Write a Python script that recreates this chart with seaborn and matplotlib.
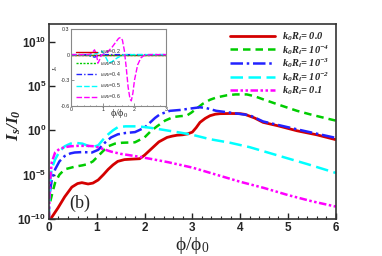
import numpy as np
import matplotlib
matplotlib.use("Agg")
import matplotlib.pyplot as plt
from matplotlib.ticker import MultipleLocator, NullLocator
import seaborn as sns

# main panel: log10(Is/I0)
x_red = [0, 0.06, 0.19, 0.33, 0.48, 0.6, 0.69, 0.82, 0.92, 1.03, 1.14, 1.24, 1.34, 1.44,
         1.58, 1.73, 1.9, 2.0, 2.18, 2.3, 2.47, 2.58, 2.68, 2.8, 2.9, 3.0, 3.08, 3.16,
         3.27, 3.37, 3.48, 3.58, 3.8, 4.0, 4.1, 4.2, 4.3, 4.48, 4.8, 5.19, 5.6, 6.0]
lg_red = [-10, -9.8, -8.75, -7.5, -6.4, -6.0, -5.9, -6.05, -5.95, -5.6, -5.0, -4.4, -3.9, -3.5,
          -3.3, -3.25, -3.2, -2.8, -1.9, -1.3, -0.8, -0.65, -0.55, -0.5, -0.4, -0.2, 0.3, 0.9,
          1.35, 1.65, 1.82, 1.88, 1.9, 1.88, 1.8, 1.6, 1.4, 0.9, 0.5, -0.05, -0.5, -1.05]

x_green = [0.03, 0.08, 0.13, 0.22, 0.33, 0.54, 0.7, 0.82, 0.92, 1.03, 1.14, 1.24, 1.38, 1.53,
           1.8, 2.0, 2.13, 2.26, 2.43, 2.6, 2.75, 2.88, 2.98, 3.1, 3.22, 3.37, 3.5, 3.72,
           3.9, 4.14, 4.3, 4.48, 4.8, 5.19, 5.5, 5.88, 6.0]
lg_green = [-8, -6.9, -5.9, -5.0, -4.4, -4.1, -3.95, -3.8, -3.5, -2.9, -2.3, -1.8, -1.5, -1.4,
            -1.35, -0.8, -0.1, 0.45, 1.1, 1.5, 1.6, 1.65, 2.0, 2.5, 3.0, 3.45, 3.7, 3.95,
            4.05, 4.05, 3.85, 3.5, 2.9, 2.2, 1.75, 1.25, 1.1]

x_blue = [0.02, 0.06, 0.13, 0.22, 0.33, 0.45, 0.54, 0.7, 0.9, 1.03, 1.17, 1.3, 1.44, 1.6, 1.8,
          2.0, 2.11, 2.22, 2.32, 2.53, 2.75, 2.95, 3.16, 3.3, 3.5, 3.79, 4.2, 4.48, 5.2, 6.0]
lg_blue = [-7, -5.6, -4.4, -3.5, -2.9, -2.6, -2.5, -2.45, -2.5, -2.2, -1.4, -0.8, -0.45, -0.3, -0.2,
           0.3, 0.85, 1.4, 1.8, 2.2, 2.3, 2.45, 2.6, 2.5, 2.2, 2.0, 1.7, 1.0, 0.1, -0.85]

x_cyan = [0.0, 0.02, 0.06, 0.13, 0.22, 0.33, 0.45, 0.54, 0.7, 0.9, 1.03, 1.14, 1.24, 1.34, 1.44,
          1.6, 1.86, 2.11, 2.4, 2.74, 3.0, 3.37, 3.79, 4.2, 4.83, 5.4, 6.0]
lg_cyan = [-10, -6, -4.3, -3.3, -2.4, -1.8, -1.5, -1.4, -1.5, -1.9, -1.7, -1.0, -0.45, 0.0, 0.35,
           0.45, 0.45, 0.3, 0.05, -0.25, -0.5, -1.0, -1.4, -1.9, -2.9, -3.8, -4.8]

x_mag = [0, 0.02, 0.06, 0.13, 0.22, 0.33, 0.45, 0.6, 0.8, 0.96, 1.13, 1.3, 1.5, 1.8, 2.11,
         2.5, 3.0, 3.5, 4.0, 4.5, 5.0, 5.5, 6.0]
lg_mag = [-10, -6, -3.6, -2.5, -2.1, -1.9, -1.8, -1.75, -1.75, -1.8, -2.1, -2.4, -2.65, -2.9, -3.2,
          -3.6, -4.2, -5.0, -5.8, -6.5, -7.3, -8.0, -8.6]

main_labels = [r'$\mathbfit{k_0R_i}$= 0.0', r'$\mathbfit{k_0R_i}$= 10$^{\mathbfit{-4}}$',
               r'$\mathbfit{k_0R_i}$= 10$^{\mathbfit{-3}}$', r'$\mathbfit{k_0R_i}$= 10$^{\mathbfit{-2}}$',
               r'$\mathbfit{k_0R_i}$= 0.1']
yticks = [1e-10, 1e-5, 1e0, 1e5, 1e10]
ytick_labels = [r'$\mathbf{10^{-10}}$', r'$\mathbf{10^{-5}}$', r'$\mathbf{10^{0}}$',
                r'$\mathbf{10^{5}}$', r'$\mathbf{10^{10}}$']

# inset: Is vs phi/phi0
xi_red = [0, 3]
yi_red = [0, 0]
xi_green = [0, 3]
yi_green = [0, 0]
xi_blue = [0, 0.5, 0.63, 0.75, 0.85, 1.0, 3]
yi_blue = [0, 0, -0.02, -0.03, -0.01, 0, 0]
xi_cyan = [0, 0.7, 0.85, 0.98, 1.08, 1.19, 1.3, 1.45, 1.6, 1.7, 3]
yi_cyan = [0, 0, 0.02, 0.04, -0.02, -0.1, -0.08, -0.04, -0.01, 0, 0]
xi_mag = [0, 0.5, 0.6, 0.68, 0.74, 0.8, 0.85, 0.9, 0.95, 1.0, 1.1, 1.2, 1.3, 1.4, 1.5, 1.56,
          1.62, 1.68, 1.74, 1.8, 1.86, 1.9, 1.95, 2.0, 2.1, 2.2, 2.3, 2.5, 3.0]
yi_mag = [0, 0, 0.005, 0.03, 0.056, 0.0, -0.1, -0.06, -0.01, 0.0, 0.02, 0.05, 0.09, 0.14, 0.19, 0.2,
          0.17, 0.05, -0.15, -0.38, -0.52, -0.54, -0.45, -0.3, -0.12, -0.04, -0.01, 0, 0]
inset_labels = [r'$\mathit{k_0R_i}$=0.2', r'$\mathit{k_0R_i}$=0.3', r'$\mathit{k_0R_i}$=0.4',
                r'$\mathit{k_0R_i}$=0.5', r'$\mathit{k_0R_i}$=0.6']

colors = ['#d40000', '#00cc00', '#2222ff', '#00ffff', '#ff00ff']
styles = ['-', (0, (3, 2)), (0, (5, 1.5, 1, 1.5)), (0, (5, 2.2)), (0, (3, 1, 1, 1, 1, 1))]

sns.set_theme(style="ticks")
plt.rcParams['font.family'] = ['Liberation Sans', 'DejaVu Sans']
plt.rcParams['mathtext.fontset'] = 'custom'
plt.rcParams['mathtext.rm'] = 'Liberation Serif'
plt.rcParams['mathtext.it'] = 'Liberation Serif:italic'
plt.rcParams['mathtext.bf'] = 'Liberation Sans:bold'
plt.rcParams['mathtext.bfit'] = 'Liberation Serif:italic:bold'

fig = plt.figure(figsize=(3.82, 2.56), dpi=100)
ax = fig.add_axes([0.128, 0.1445, 0.751, 0.762])

series = [(x_red, lg_red), (x_green, lg_green), (x_blue, lg_blue), (x_cyan, lg_cyan), (x_mag, lg_mag)]
for (xs, lg), c, ls, lab in zip(series, colors, styles, main_labels):
    sns.lineplot(x=xs, y=10.0 ** np.array(lg), ax=ax, color=c, linestyle=ls,
                 lw=2.0 if ls == '-' else 1.8, label=lab, sort=False, estimator=None)

ax.set_yscale('log')
ax.set_xlim(0, 6)
ax.set_ylim(1e-10, 1e12)
ax.set_yticks(yticks, labels=ytick_labels)
ax.yaxis.set_minor_locator(NullLocator())
ax.xaxis.set_major_locator(MultipleLocator(1))
ax.xaxis.set_minor_locator(MultipleLocator(0.2))
ax.tick_params(which='both', direction='in', labelsize=8.5, pad=2, color='#222222')
ax.tick_params(which='major', length=4, width=1)
ax.tick_params(which='minor', length=2, width=0.8)
for t in ax.get_xticklabels():
    t.set_fontweight('bold')
for s in ax.spines.values():
    s.set_linewidth(1.2)
    s.set_color('#333333')

ax.set_xlabel(r'$\mathrm{\phi/\phi_0}$', fontsize=14, labelpad=1)
ax.set_ylabel(r'$\mathbfit{I_s/I_0}$', fontsize=12.5)
ax.yaxis.set_label_coords(-0.09, 0.48)
ax.text(0.07, 0.08, '(b)', transform=ax.transAxes, fontsize=13,
        family='Liberation Serif', ha='left', va='center')

leg = ax.legend(loc='upper right', frameon=False, handlelength=4.3,
                prop={'family': 'Liberation Serif', 'weight': 'bold', 'style': 'italic', 'size': 7.5},
                handletextpad=0.7, labelspacing=0.0, borderaxespad=0.5, borderpad=0.1)

# inset
axi = fig.add_axes([0.186, 0.586, 0.249, 0.301])
iseries = [(xi_red, yi_red), (xi_green, yi_green), (xi_blue, yi_blue), (xi_cyan, yi_cyan), (xi_mag, yi_mag)]
istyles = ['-', (0, (1.5, 1)), (0, (4, 1.5, 1, 1.5)), (0, (4, 1.5)), (0, (4, 1.5))]
for (xs, ys), c, ls, lab in zip(iseries, colors, istyles, inset_labels):
    sns.lineplot(x=xs, y=ys, ax=axi, color=c, linestyle=ls, lw=1.0, label=lab,
                 sort=False, estimator=None)
axi.set_xlim(0, 3)
axi.set_ylim(-0.6, 0.3)
axi.set_xticks([0, 1, 2, 3])
axi.set_yticks([0.3, 0, -0.3, -0.6], labels=['0.3', '0', '-0.3', '-0.6'])
axi.xaxis.set_minor_locator(MultipleLocator(0.2))
axi.tick_params(which='both', direction='in', labelsize=3.8, pad=1, length=2, width=0.5, color='#666666')
axi.tick_params(which='minor', length=1)
for s in axi.spines.values():
    s.set_linewidth(0.8)
    s.set_color('#888888')
axi.set_xlabel(r'$\mathrm{\phi/\phi_0}$', fontsize=7, labelpad=-4)
axi.set_ylabel(r'$\mathit{I_s}$', fontsize=5, labelpad=0)
axi.legend(loc='lower left', frameon=False, fontsize=3.8, handlelength=4,
           handletextpad=0.5, labelspacing=0.5, borderaxespad=0.5)

fig.savefig('out.png', dpi=100)
